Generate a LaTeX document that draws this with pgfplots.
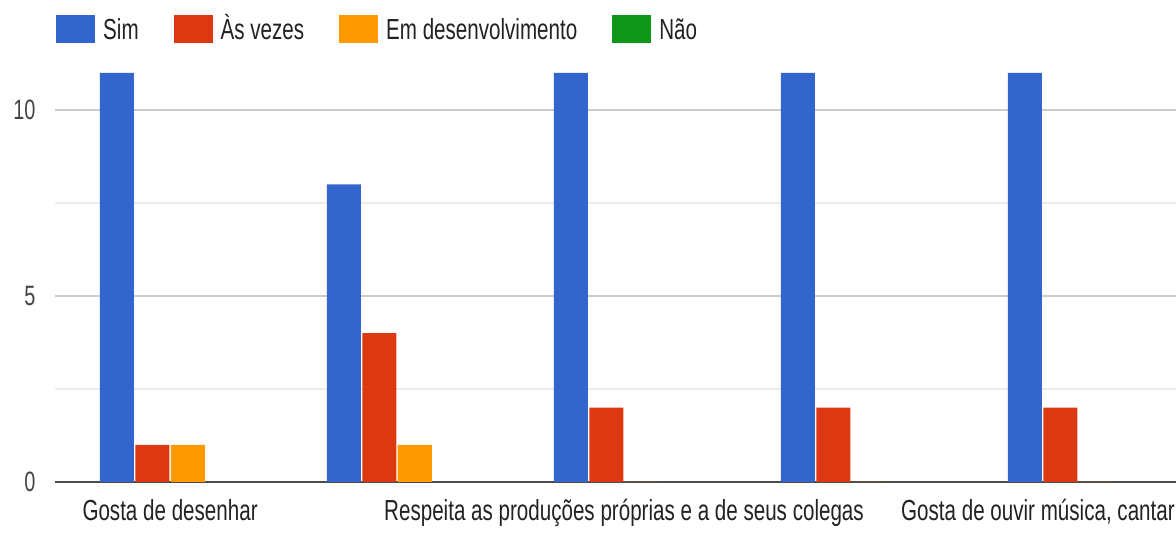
\documentclass[border=0pt]{standalone}
\usepackage{fontspec}
\setmainfont[FakeStretch=0.71]{Liberation Sans}
\usepackage{pgfplots}
\pgfplotsset{compat=1.18}
\definecolor{gsim}{HTML}{3366CC}
\definecolor{gas}{HTML}{DC3912}
\definecolor{gem}{HTML}{FF9900}
\definecolor{gnao}{HTML}{109618}
\definecolor{txt}{HTML}{222222}
\definecolor{tck}{HTML}{444444}
\begin{document}
\begin{tikzpicture}
\useasboundingbox (0,0) rectangle (1176pt,533pt);
\begin{axis}[
  at={(55pt,51pt)}, anchor=south west,
  scale only axis, width=1121pt, height=420.4pt,
  xmin=-0.507, xmax=4.432,
  ymin=0, ymax=11.3,
  ybar, bar width=0.15,
  xtick={0,1,2,3,4},
  xticklabels={Gosta de desenhar,{},Respeita as produções próprias e a de seus colegas,{},{\hbox{\kern-80pt Gosta de ouvir música, cantar}}},
  ytick={0,5,10},
  minor ytick={2.5,7.5},
  ymajorgrids, yminorgrids,
  major grid style={draw=black!20, line width=1.2pt},
  minor grid style={draw=black!8, line width=1.2pt},
  major tick length=0pt, minor tick length=0pt,
  axis lines*=left,
  y axis line style={draw=none},
  x axis line style={draw=black!70, line width=1.8pt},
  /pgf/number format/assume math mode=true,
  tick label style={font=\fontsize{28}{33}\selectfont, text=tck},
  yticklabel style={anchor=east, xshift=-16pt},
  xticklabel style={anchor=north, yshift=-14pt, text=txt, font=\fontsize{29}{34}\selectfont},
  legend columns=4,
  legend style={at={(0,1)}, anchor=south west, xshift=1pt, yshift=16pt, draw=none, fill=none,
    font=\fontsize{29}{34}\selectfont, text=txt, inner sep=0pt,
    nodes={inner sep=0pt, text height=21pt, text depth=6pt},
    /tikz/every odd column/.append style={column sep=8pt},
    /tikz/every even column/.append style={column sep=35pt}},
  legend image code/.code={\fill[#1] (0pt,-11pt) rectangle (39pt,17pt);},
]
\addplot[fill=gsim, draw=none, bar shift=-0.234] coordinates {(0,11) (1,8) (2,11) (3,11) (4,11)};
\addplot[fill=gas, draw=none, bar shift=-0.078] coordinates {(0,1) (1,4) (2,2) (3,2) (4,2)};
\addplot[fill=gem, draw=none, bar shift=0.078] coordinates {(0,1) (1,1) (2,0) (3,0) (4,0)};
\addplot[fill=gnao, draw=none, bar shift=0.234] coordinates {(0,0) (1,0) (2,0) (3,0) (4,0)};
\legend{Sim,Às vezes,Em desenvolvimento,Não}
\end{axis}
\end{tikzpicture}
\end{document}
